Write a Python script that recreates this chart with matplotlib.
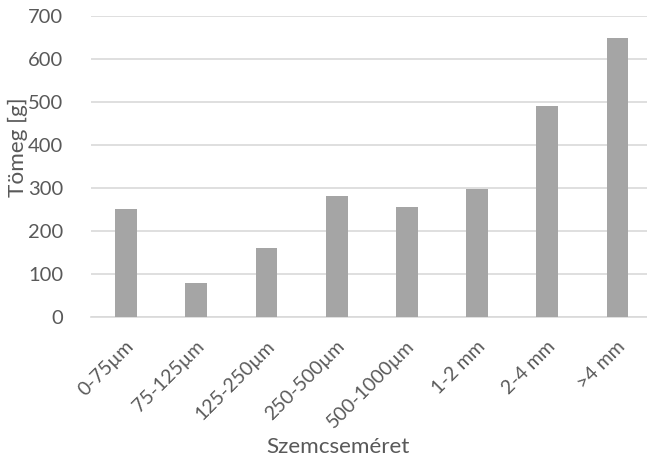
import matplotlib
matplotlib.use("Agg")
import matplotlib.pyplot as plt
from matplotlib.transforms import ScaledTranslation

categories = ["0-75µm", "75-125µm", "125-250µm", "250-500µm",
              "500-1000µm", "1-2 mm", "2-4 mm", ">4 mm"]
mass_g = [252, 80, 161, 282, 255, 299, 492, 650]
y_ticks = [0, 100, 200, 300, 400, 500, 600, 700]

plt.rcParams["font.family"] = ["Lato", "DejaVu Sans"]
text_color = "#595959"

fig = plt.figure(figsize=(6.47, 4.61), dpi=100)
ax = fig.add_axes([0.1406, 0.3124, 0.8594, 0.6522])

x = list(range(len(categories)))
ax.bar(x, mass_g, width=0.31, color="#a5a5a5", zorder=3)

ax.set_xlim(-0.5, 7.42)
ax.set_ylim(0, 700)
ax.set_yticks(y_ticks)
ax.yaxis.grid(True, color="#d9d9d9", linewidth=1.2, zorder=0)
for s in ["top", "right", "left"]:
    ax.spines[s].set_visible(False)
ax.spines["bottom"].set_color("#d9d9d9")
ax.spines["bottom"].set_linewidth(1.2)
ax.tick_params(axis="y", length=0, pad=20, labelsize=14.5, labelcolor=text_color)
ax.tick_params(axis="x", length=0)
ax.set_xticks(x)
ax.set_xticklabels([])

# rotated category labels, upper end near each tick
offset = ScaledTranslation(0.05, -0.265, fig.dpi_scale_trans)
for i, lab in enumerate(categories):
    ax.text(i, 0, lab, rotation=45, ha="right", va="center",
            rotation_mode="anchor", fontsize=14, color=text_color,
            transform=ax.get_xaxis_transform() + offset)

fig.text(338 / 647, 1 - 453 / 461, "Szemcseméret", ha="center", va="baseline",
         fontsize=16.2, color=text_color)
fig.text(18 / 647, 1 - 147 / 461, "Tömeg [g]", ha="center", va="center",
         rotation=90, fontsize=16.2, color=text_color)

fig.savefig("out.png", dpi=100)
